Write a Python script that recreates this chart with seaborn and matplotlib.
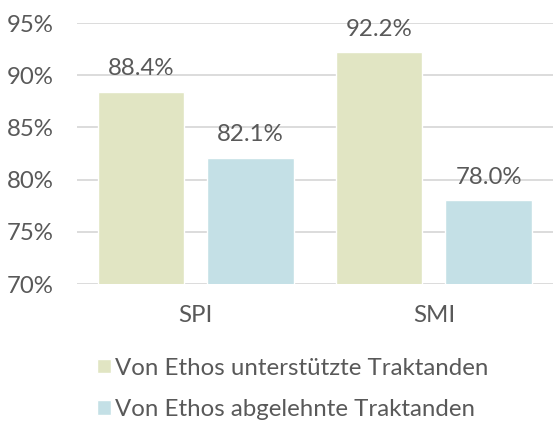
import matplotlib
matplotlib.use("Agg")
import matplotlib.pyplot as plt
import seaborn as sns
import pandas as pd

categories = ["SPI", "SMI"]
supported = [88.4, 92.2]
rejected = [82.1, 78.0]
series_names = ["Von Ethos unterstützte Traktanden", "Von Ethos abgelehnte Traktanden"]
y_ticks = [70, 75, 80, 85, 90, 95]

colors = ["#E1E5C3", "#C4E0E6"]
text_color = "#595959"

df = pd.DataFrame({
    "Index": categories * 2,
    "Wert": supported + rejected,
    "Gruppe": [series_names[0]] * 2 + [series_names[1]] * 2,
})

sns.set_style("white")
plt.rcParams["font.family"] = ["Lato", "DejaVu Sans"]

fig = plt.figure(figsize=(5.53, 4.23), dpi=100)
ax = fig.add_axes([0.139, 0.3286, 0.861, 0.617])

sns.barplot(data=df, x="Index", y="Wert", hue="Gruppe", palette=colors,
            width=0.92, gap=0.21, ax=ax, saturation=1)

for cont in ax.containers:
    ax.bar_label(cont, labels=[f"{b.get_height():.1f}%" for b in cont],
                 padding=9, fontsize=17.3, color=text_color)

ax.set_ylim(70, 95)
ax.set_yticks(y_ticks)
ax.set_yticklabels([f"{t}%" for t in y_ticks])
ax.yaxis.grid(True, color="#D9D9D9", lw=1.3)
ax.set_axisbelow(True)
sns.despine(ax=ax, left=True, bottom=True)
ax.tick_params(axis="both", length=0, labelsize=17.3, labelcolor=text_color)
ax.tick_params(axis="y", pad=17)
ax.tick_params(axis="x", pad=15)
ax.set_xlabel("")
ax.set_ylabel("")

ax.legend_.remove()
handles, labels = ax.get_legend_handles_labels()
leg = fig.legend(handles, labels, loc="center left", bbox_to_anchor=(0.137, 0.081),
                 frameon=False, fontsize=17.3, labelspacing=0.85, handlelength=0.55,
                 handleheight=0.55, handletextpad=0.2)
for t in leg.get_texts():
    t.set_color(text_color)

fig.savefig("out.png", dpi=100)
